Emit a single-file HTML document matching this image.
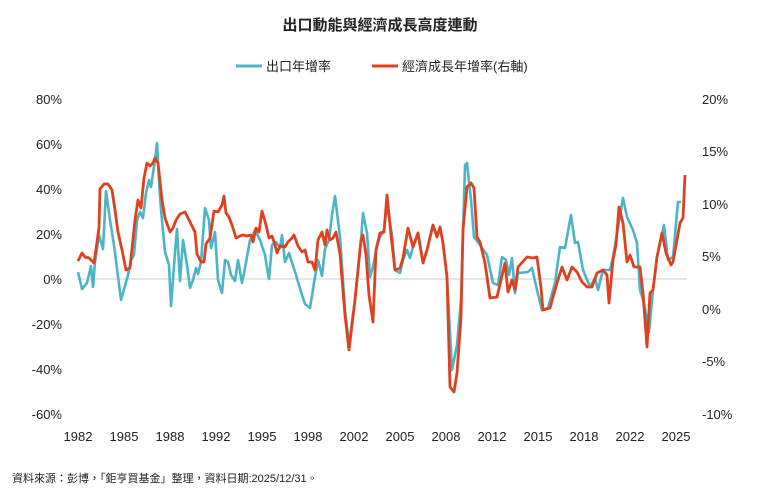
<!DOCTYPE html>
<html><head><meta charset="utf-8"><style>
body{margin:0;background:#fff;width:760px;height:498px;overflow:hidden;font-family:"Liberation Sans","Noto Sans CJK TC",sans-serif;}
</style></head><body>
<svg width="760" height="498" xmlns="http://www.w3.org/2000/svg" font-family="Liberation Sans, Noto Sans CJK TC, sans-serif">
<text x="380" y="30" text-anchor="middle" font-size="15" font-weight="bold" fill="#222">出口動能與經濟成長高度連動</text>
<line x1="236" y1="66" x2="262" y2="66" stroke="#4bb5c5" stroke-width="3"/>
<text x="266" y="71" font-size="13" fill="#222">出口年增率</text>
<line x1="372" y1="66" x2="398" y2="66" stroke="#e0401e" stroke-width="3"/>
<text x="402" y="71" font-size="13" fill="#222">經濟成長年增率(右軸)</text>
<g font-size="13" fill="#222" text-anchor="end">
<text x="62" y="104">80%</text><text x="62" y="149">60%</text><text x="62" y="194">40%</text><text x="62" y="239">20%</text><text x="62" y="284">0%</text><text x="62" y="329">-20%</text><text x="62" y="374">-40%</text><text x="62" y="419">-60%</text>
</g>
<g font-size="13" fill="#222" text-anchor="start">
<text x="702" y="104">20%</text><text x="702" y="156">15%</text><text x="702" y="209">10%</text>
<text x="702" y="261">5%</text>
<text x="702" y="314">0%</text><text x="702" y="366">-5%</text><text x="702" y="419">-10%</text>
</g>
<g font-size="13" fill="#222" text-anchor="middle">
<text x="78" y="441">1982</text><text x="124" y="441">1985</text><text x="170" y="441">1988</text><text x="216" y="441">1992</text><text x="262" y="441">1995</text><text x="308" y="441">1998</text><text x="354" y="441">2002</text><text x="400" y="441">2005</text><text x="446" y="441">2008</text><text x="492" y="441">2012</text><text x="538" y="441">2015</text><text x="584" y="441">2018</text><text x="630" y="441">2022</text><text x="676" y="441">2025</text>
</g>
<line x1="77" y1="279" x2="687" y2="279" stroke="#ccc" stroke-width="1"/>
<polyline fill="none" stroke="#4bb5c5" stroke-width="2.6" stroke-linejoin="round" points="78,272 82,289 87,283 91,266 93,287 95,262 99,235 103,249 106,191 110,220 114,245 121,300 128,275 131,260 134,255 137,220 140,212 143,218 146,193 149,180 151,187 155,160 157,143 159,180 161,210 165,252 169,265 171,306 176,240 177,229 180,281 183,240 187,265 190,288 193,280 196,268 198,274 201,262 205,208 209,220 211,248 215,232 218,280 222,293 225,260 228,262 231,275 235,281 238,260 242,283 245,268 250,240 253,235 255,230 260,240 265,255 267,268 269,279 272,245 276,242 280,248 282,235 285,262 289,253 296,275 302,295 305,304 310,308 314,283 318,260 322,276 325,249 329,240 332,215 335,196 340,237 345,310 349,345 352,322 355,300 358,270 361,240 363,213 367,233 370,277 373,267 377,245 380,237 384,230 387,205 392,235 395,270 400,273 403,260 407,250 410,258 413,247 418,233 423,263 427,250 433,225 437,237 440,227 443,243 447,277 452,370 457,345 461,300 465,165 467,163 471,200 474,237 480,245 487,255 493,283 498,285 502,257 506,260 509,275 512,258 515,293 518,273 528,272 532,268 537,290 542,310 548,308 555,283 560,247 565,248 571,215 575,243 578,242 583,270 590,287 595,278 598,290 603,270 610,270 613,257 617,233 623,198 627,217 633,230 637,243 640,290 644,303 649,332 653,290 657,257 664,225 668,260 673,257 678,202 681,202"/>
<polyline fill="none" stroke="#e0401e" stroke-width="2.8" stroke-linejoin="round" points="78,261 82,253 85,257 89,258 94,263 99,228 100,189 104,184 108,184 112,190 115,210 118,232 122,250 126,270 130,268 135,220 138,200 141,208 144,178 147,163 150,166 153,163 155,158 158,163 162,200 165,218 170,232 173,228 176,220 180,214 185,212 190,222 193,228 195,232 197,254 201,262 204,262 206,244 210,238 214,211 218,212 222,205 224,196 226,213 229,217 233,228 236,238 240,236 243,235 247,236 251,235 253,242 256,228 259,232 262,211 266,225 269,238 272,236 275,245 277,253 280,246 285,247 288,242 292,238 294,235 298,246 302,252 305,250 308,262 312,262 315,270 318,240 322,232 325,245 327,230 330,240 333,238 336,232 340,254 345,315 349,350 352,325 355,300 358,270 361,240 363,235 366,255 369,295 373,322 376,250 380,233 384,232 387,195 391,235 395,270 400,268 403,258 408,228 413,247 418,233 423,263 427,250 433,225 437,237 440,227 443,243 447,277 450,387 454,392 457,373 461,317 463,230 467,187 471,183 474,188 477,237 480,242 485,263 490,298 497,297 505,263 508,292 512,280 515,290 518,267 527,257 533,258 537,257 541,288 543,310 550,308 557,283 562,267 567,280 572,267 577,272 582,282 587,287 592,287 597,273 603,270 607,275 609,303 613,260 616,245 619,207 623,223 627,262 630,255 634,267 640,267 643,293 647,347 650,293 653,290 657,257 662,233 666,253 671,265 673,262 677,240 680,223 683,218 685,175"/>
<text x="12" y="482" font-size="11" fill="#222">資料來源：彭博，「鉅亨買基金」整理，資料日期:2025/12/31。</text>
</svg>
</body></html>
